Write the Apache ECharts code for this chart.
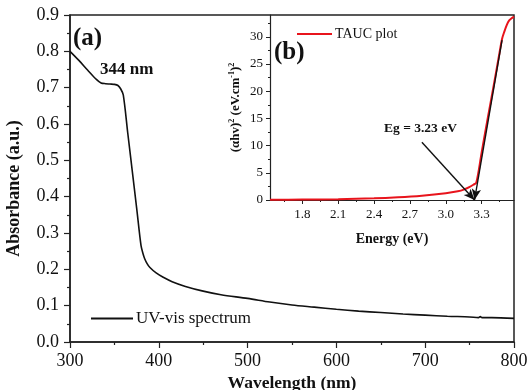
<!DOCTYPE html>
<html>
<head>
<meta charset="utf-8">
<script src="https://cdn.jsdelivr.net/npm/echarts@6/dist/echarts.min.js"></script>
<style>html,body{margin:0;padding:0;background:#fff;}#c{width:530px;height:390px;}</style>
</head>
<body>
<div id="c"></div>
<script>
// Main UV-vis spectrum
const wavelength = [300,310,320,330,335,340,345,350,354,357,360,365,370,375,380,382,384,387,390,397,405,415,430,450,470,500,525,550,575,600,625,650,675,700,725,750,760,762,764,775,800];
const absorbance = [0.800,0.775,0.748,0.722,0.713,0.711,0.710,0.709,0.706,0.697,0.680,0.576,0.473,0.370,0.265,0.245,0.230,0.215,0.205,0.190,0.178,0.166,0.153,0.140,0.130,0.120,0.110,0.102,0.096,0.090,0.085,0.081,0.077,0.074,0.071,0.069,0.067,0.070,0.067,0.067,0.065];
// Inset Tauc plot
const energy = [1.53,1.8,2.1,2.4,2.6,2.8,3.0,3.1,3.15,3.2,3.23,3.255,3.3,3.35,3.4,3.45,3.47,3.49,3.51,3.53,3.55,3.57];
const tauc = [0.05,0.08,0.15,0.3,0.5,0.8,1.25,1.6,1.9,2.4,2.8,3.2,8.8,15.0,21.0,27.2,29.6,31.0,32.2,33.0,33.4,33.7];
// Axis ticks
const wlTicks = [300,400,500,600,700,800];
const absTicks = [0,0.1,0.2,0.3,0.4,0.5,0.6,0.7,0.8,0.9];
const eTicks = [1.8,2.1,2.4,2.7,3.0,3.3];
const eMinor = [1.65,1.95,2.25,2.55,2.85,3.15,3.45];
const tTicks = [0,5,10,15,20,25,30];
const tMinor = [2.5,7.5,12.5,17.5,22.5,27.5,32.5];
// Annotations
const egValue = 3.24;
const tangentTop = [3.47, 29.4];
const egLabelPoint = [2.80, 10.6];

const FONT = 'Liberation Serif';
const AX = '#222';

const chart = echarts.init(document.getElementById('c'), null, {renderer: 'canvas'});
const txt = (s, x, y, size, bold) => ({
  type: 'text', left: x, top: y,
  style: {text: s, font: (bold ? 'bold ' : '') + size + 'px "' + FONT + '"', fill: '#111'}
});

chart.setOption({
  animation: false,
  backgroundColor: '#fff',
  textStyle: {fontFamily: FONT},
  grid: [
    {left: 70, right: 16, top: 15, bottom: 48, containLabel: false, outerBoundsMode: 'none',
     show: true, borderColor: AX, borderWidth: 1.5, backgroundColor: 'transparent'},
    {left: 270, right: 16, top: 15, bottom: 190, containLabel: false, outerBoundsMode: 'none'}
  ],
  legend: [
    {data: ['UV-vis spectrum'], left: 86, top: 305, icon: 'rect', itemWidth: 42, itemHeight: 2, itemGap: 0,
     textStyle: {fontFamily: FONT, fontSize: 17, color: '#111', padding: [0, 0, 0, -2]}},
    {data: ['TAUC plot'], left: 292, top: 22, icon: 'rect', itemWidth: 35, itemHeight: 2,
     textStyle: {fontFamily: FONT, fontSize: 14, color: '#111', padding: [0, 0, 0, -2]}}
  ],
  xAxis: [
    {gridIndex: 0, type: 'value', min: 300, max: 800, interval: 100,
     name: 'Wavelength (nm)', nameLocation: 'middle', nameGap: 28,
     nameTextStyle: {fontFamily: FONT, fontSize: 17.5, fontWeight: 'bold', color: '#111'},
     axisLine: {lineStyle: {color: AX, width: 1.5}},
     axisTick: {inside: false, length: 6, lineStyle: {color: AX, width: 1.2}},
     minorTick: {show: true, splitNumber: 2, length: 3, lineStyle: {color: AX, width: 1.2}},
     axisLabel: {fontFamily: FONT, fontSize: 18, color: '#111', margin: 10},
     splitLine: {show: false}},
    {gridIndex: 1, type: 'value', min: 1.53, max: 3.57,
     name: 'Energy (eV)', nameLocation: 'middle', nameGap: 32,
     nameTextStyle: {fontFamily: FONT, fontSize: 14, fontWeight: 'bold', color: '#111'},
     axisLine: {onZero: false, lineStyle: {color: AX, width: 1.2}},
     axisTick: {customValues: eTicks, length: 4, lineStyle: {color: AX}},
     axisLabel: {customValues: eTicks, fontFamily: FONT, fontSize: 13, color: '#111', margin: 8,
                 formatter: v => v.toFixed(1)},
     splitLine: {show: false}},
    {gridIndex: 1, type: 'value', min: 1.53, max: 3.57, position: 'bottom', offset: 0,
     axisLine: {show: false},
     axisTick: {customValues: eMinor, length: 2, lineStyle: {color: AX}},
     axisLabel: {show: false}, splitLine: {show: false}}
  ],
  yAxis: [
    {gridIndex: 0, type: 'value', min: 0, max: 0.9, interval: 0.1,
     name: 'Absorbance (a.u.)', nameLocation: 'middle', nameGap: 47,
     nameTextStyle: {fontFamily: FONT, fontSize: 18, fontWeight: 'bold', color: '#111', padding: [0, 0, 0, -20]},
     axisLine: {lineStyle: {color: AX, width: 1.5}},
     axisTick: {inside: false, length: 6, lineStyle: {color: AX, width: 1.2}},
     minorTick: {show: true, splitNumber: 2, length: 3, lineStyle: {color: AX, width: 1.2}},
     axisLabel: {fontFamily: FONT, fontSize: 18, color: '#111', margin: 11, formatter: v => v.toFixed(1)},
     splitLine: {show: false}},
    {gridIndex: 1, type: 'value', min: 0, max: 34,
     name: '(αhv){sup|2} (eV.cm{sup|-1}){sup|2}', nameLocation: 'middle', nameGap: 27,
     nameTextStyle: {fontFamily: FONT, fontSize: 13, fontWeight: 'bold', color: '#111',
       rich: {sup: {fontFamily: FONT, fontSize: 8, fontWeight: 'bold', verticalAlign: 'top', color: '#111', padding: [0, 0, 7, 0]}}},
     axisLine: {onZero: false, lineStyle: {color: AX, width: 1.2}},
     axisTick: {customValues: tTicks, length: 4, lineStyle: {color: AX}},
     axisLabel: {customValues: tTicks, fontFamily: FONT, fontSize: 13, color: '#111', margin: 7},
     splitLine: {show: false}},
    {gridIndex: 1, type: 'value', min: 0, max: 34, position: 'left', offset: 0,
     axisLine: {show: false},
     axisTick: {customValues: tMinor, length: 2, lineStyle: {color: AX}},
     axisLabel: {show: false}, splitLine: {show: false}}
  ],
  series: [
    {name: 'UV-vis spectrum', type: 'line', xAxisIndex: 0, yAxisIndex: 0, showSymbol: false, smooth: 0.3,
     itemStyle: {color: '#111'}, lineStyle: {color: '#111', width: 1.6},
     data: wavelength.map((w, i) => [w, absorbance[i]])},
    {name: 'TAUC plot', type: 'line', xAxisIndex: 1, yAxisIndex: 1, showSymbol: false, smooth: 0.3,
     itemStyle: {color: '#e8141c'}, lineStyle: {color: '#e8141c', width: 2},
     data: energy.map((e, i) => [e, tauc[i]]),
     markLine: {silent: true, symbol: ['none', 'arrow'], symbolSize: [7, 11], animation: false,
       label: {show: false}, lineStyle: {color: '#111', width: 1.4, type: 'solid'},
       data: [
         [{coord: tangentTop}, {coord: [egValue, 0]}],
         [{coord: egLabelPoint}, {coord: [egValue, 0]}]
       ]}}
  ],
  graphic: [
    txt('(a)', 73, 26, 25, true),
    txt('344 nm', 100, 61, 17, true),
    txt('(b)', 274, 40, 25, true),
    txt('Eg = 3.23 eV', 384, 122, 13.5, true)
  ]
});
</script>
</body>
</html>
